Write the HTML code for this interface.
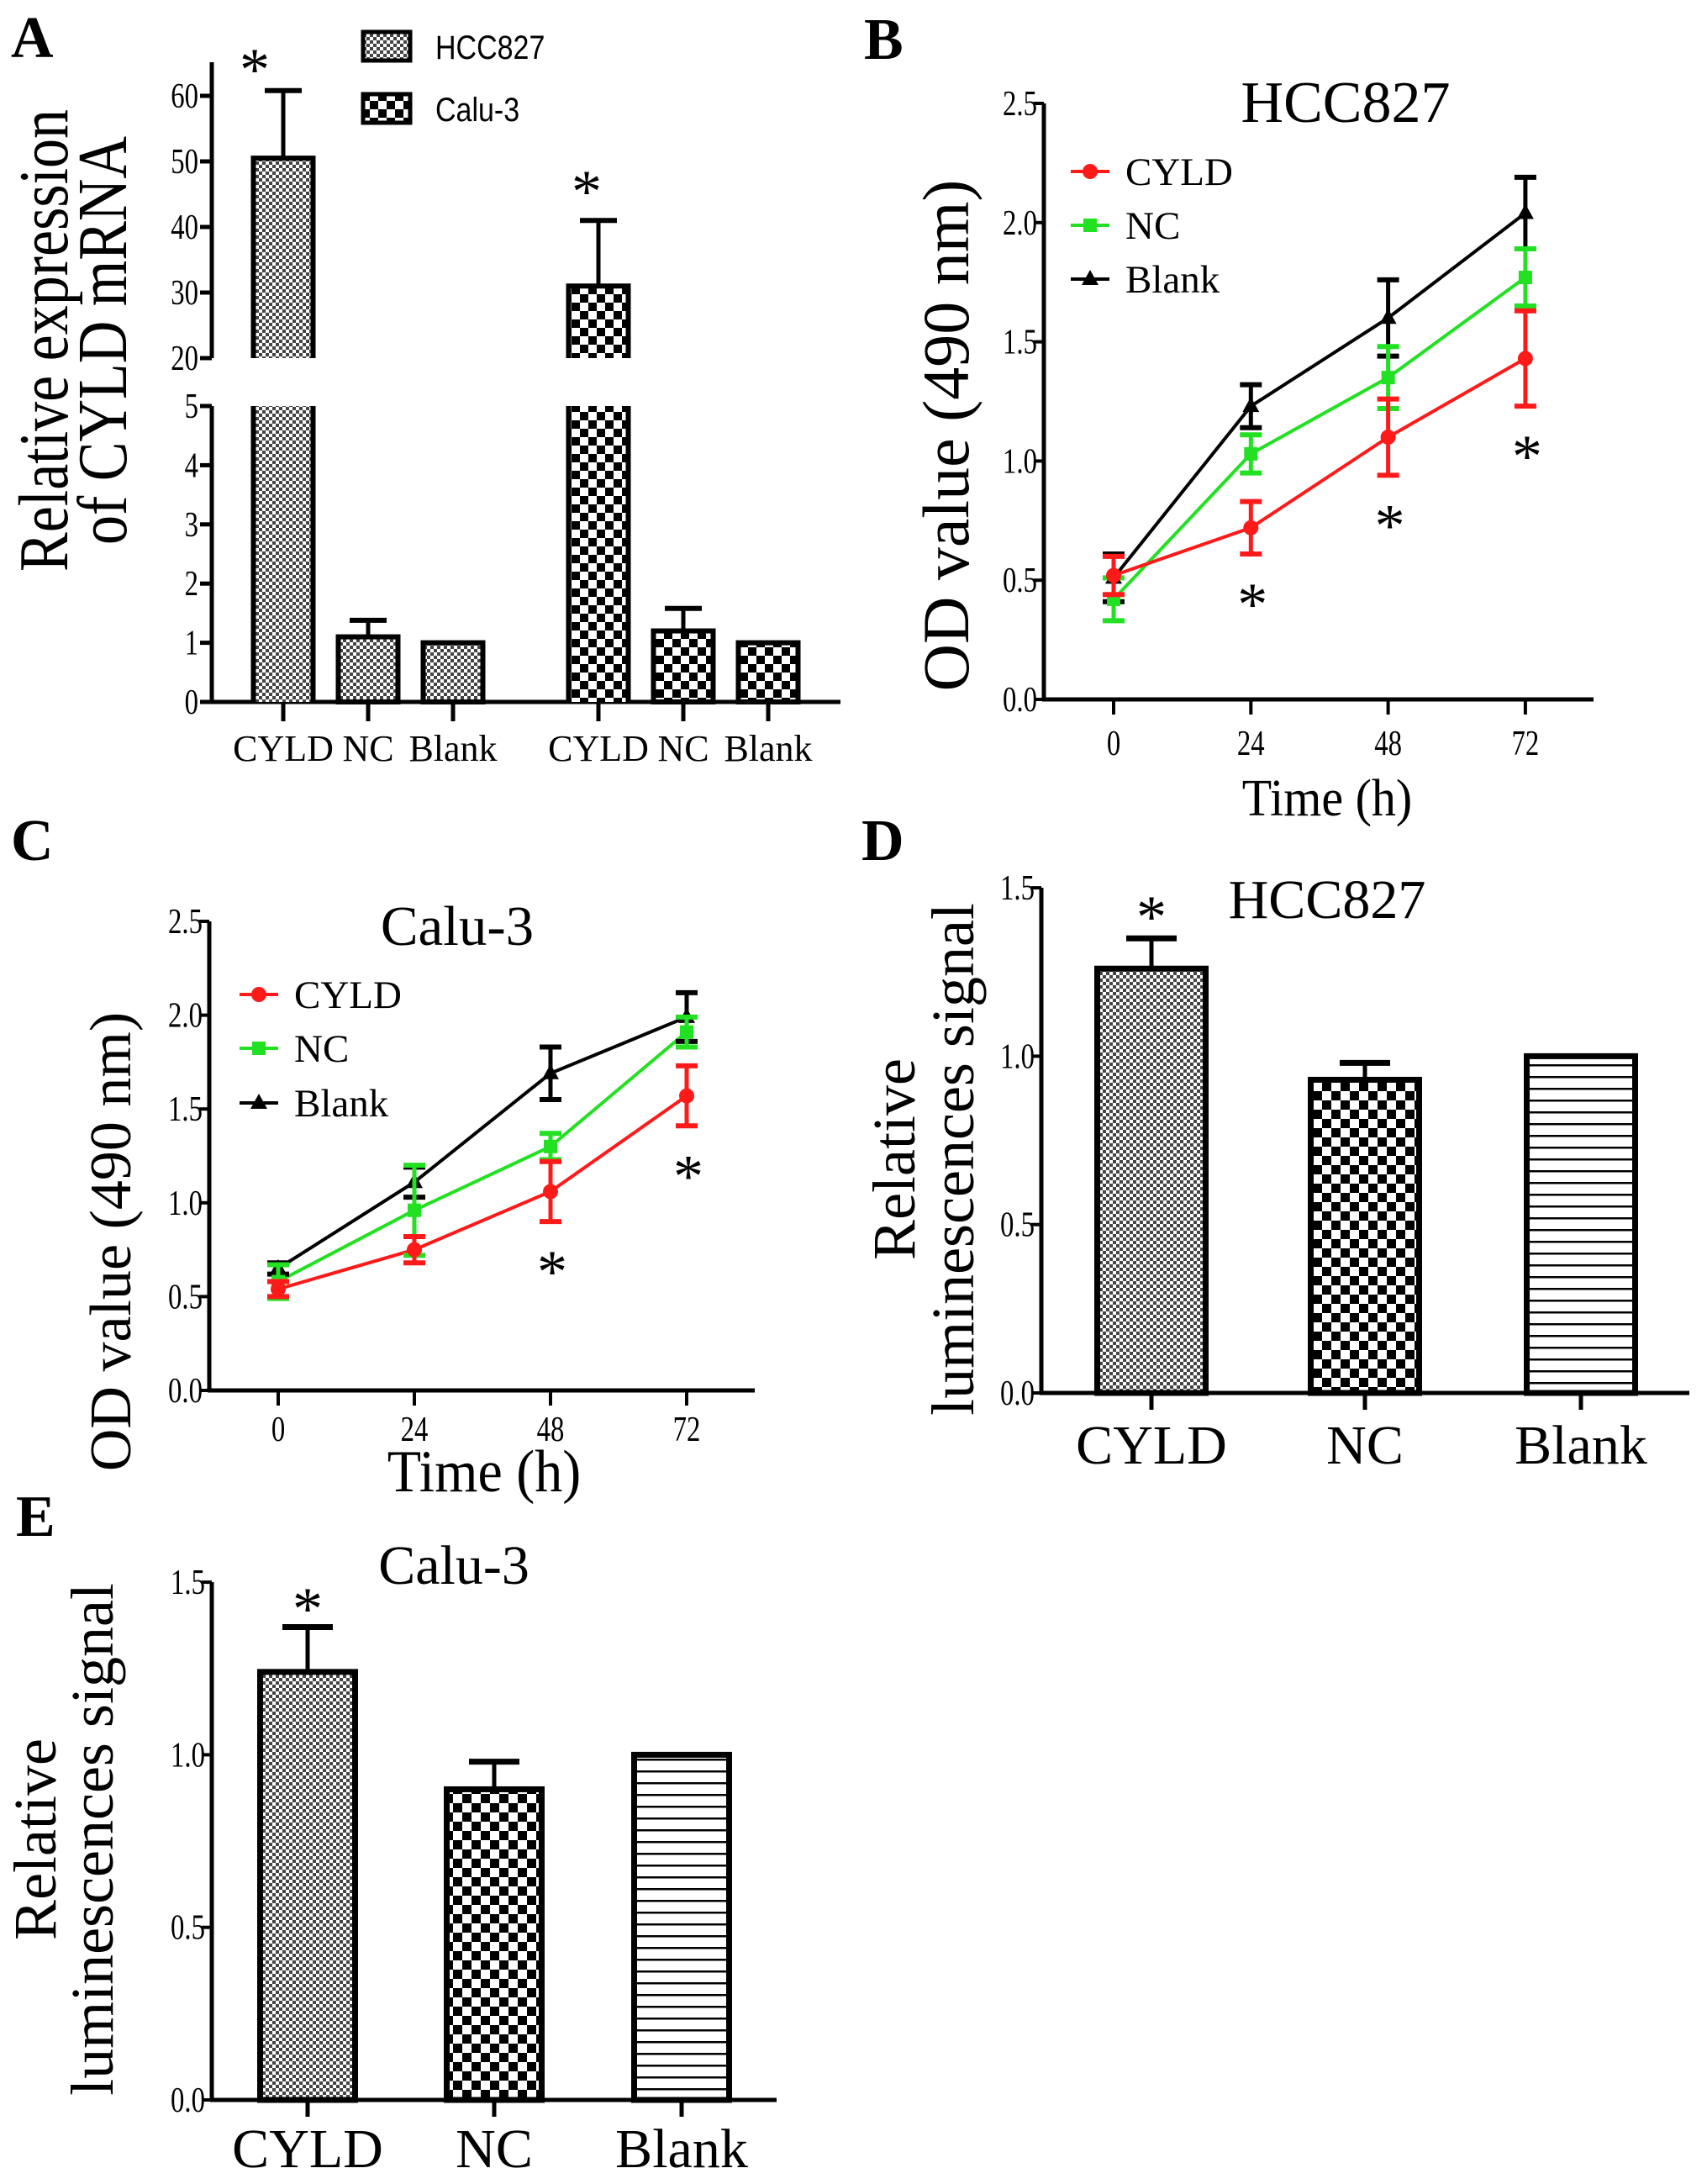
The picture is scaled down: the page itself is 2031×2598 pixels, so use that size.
<!DOCTYPE html>
<html><head><meta charset="utf-8"><title>CYLD figure</title>
<style>html,body{margin:0;padding:0;background:#fff}svg{display:block}</style></head>
<body>
<svg id="fig" xmlns="http://www.w3.org/2000/svg" width="2031" height="2598" viewBox="0 0 2031 2598">
<defs>
<pattern id="fine" patternUnits="userSpaceOnUse" width="8" height="8"><rect width="8" height="8" fill="#fff"/><rect width="4" height="4" fill="#444"/><rect x="4" y="4" width="4" height="4" fill="#444"/></pattern>
<pattern id="checkA" patternUnits="userSpaceOnUse" width="20" height="20"><rect width="20" height="20" fill="#fff"/><rect width="10" height="10" fill="#000"/><rect x="10" y="10" width="10" height="10" fill="#000"/></pattern>
<pattern id="checkD" patternUnits="userSpaceOnUse" width="22" height="22"><rect width="22" height="22" fill="#fff"/><rect width="11" height="11" fill="#000"/><rect x="11" y="11" width="11" height="11" fill="#000"/></pattern>
<pattern id="hlines" patternUnits="userSpaceOnUse" width="14" height="14"><rect width="14" height="14" fill="#fff"/><rect y="6" width="14" height="2.5" fill="#000"/></pattern>
</defs>
</svg>
<script>
// ---------- DATA ----------
const aCategories=['CYLD','NC','Blank'];
const aGroups=['HCC827','Calu-3'];
const aHccValues=[50.5,1.1,1.0];
const aHccErr=[10.3,0.28,0];
const aCaluValues=[31,1.2,1.0];
const aCaluErr=[10,0.38,0];
const aUpperTicks=[20,30,40,50,60];
const aLowerTicks=[0,1,2,3,4,5];

const timePoints=[0,24,48,72];
const odTicks=[0,0.5,1.0,1.5,2.0,2.5];
const odTickLabels=['0.0','0.5','1.0','1.5','2.0','2.5'];
const seriesNames=['CYLD','NC','Blank'];
const bCyld=[0.52,0.72,1.10,1.43];
const bCyldErr=[0.08,0.11,0.16,0.20];
const bNc=[0.42,1.03,1.35,1.77];
const bNcErr=[0.09,0.08,0.13,0.12];
const bBlank=[0.51,1.23,1.60,2.04];
const bBlankErr=[0.10,0.09,0.16,0.15];
const bSig=[false,true,true,true];

const cCyld=[0.54,0.75,1.06,1.57];
const cCyldErr=[0.04,0.07,0.16,0.16];
const cNc=[0.58,0.96,1.30,1.91];
const cNcErr=[0.09,0.24,0.07,0.08];
const cBlank=[0.65,1.11,1.69,1.99];
const cBlankErr=[0.03,0.08,0.14,0.13];
const cSig=[false,false,true,true];

const lumCategories=['CYLD','NC','Blank'];
const lumTicks=[0,0.5,1.0,1.5];
const lumTickLabels=['0.0','0.5','1.0','1.5'];
const dValues=[1.26,0.93,1.0];
const dErr=[0.09,0.05,0];
const eValues=[1.24,0.90,1.0];
const eErr=[0.13,0.08,0];

// ---------- HELPERS ----------
const NS='http://www.w3.org/2000/svg';
const svg=document.getElementById('fig');
function mk(tag,attrs,name,parent){
  const el=document.createElementNS(NS,tag);
  for(const k in attrs) el.setAttribute(k,attrs[k]);
  
  
  (parent||svg).appendChild(el);
  return el;
}
function txt(s,x,y,size,anchor,name,opt){
  opt=opt||{};
  const fam=opt.fam||'"Liberation Serif", serif';
  const sx=opt.sx||1, sy=opt.sy||1, rot=opt.rot||0;
  const el=mk('text',{x:0,y:0,'font-family':fam,'font-size':size,'text-anchor':anchor,fill:'#000','font-weight':opt.bold?'bold':'normal',
    transform:'translate('+x+','+y+') rotate('+rot+') scale('+sx+','+sy+')'},name);
  el.textContent=s;
  return el;
}
function line(x1,y1,x2,y2,w,color,name){
  return mk('line',{x1:x1,y1:y1,x2:x2,y2:y2,stroke:color||'#000','stroke-width':w},name);
}
function asterisk(x,cy,name){ return txt('*',x,cy+36,72,'middle',name); }

// ---------- PANEL LETTERS ----------
txt('A',13,68,70,'start','panel-label-a',{bold:true});
txt('B',1028,70,70,'start','panel-label-b',{bold:true});
txt('C',13,1023,70,'start','panel-label-c',{bold:true});
txt('D',1025,1023,70,'start','panel-label-d',{bold:true});
txt('E',19,1827,70,'start','panel-label-e',{bold:true});

// ---------- PANEL A ----------
(function(){
  const ax=252;
  const yU=v=>426-(v-20)*7.8;
  const yL=v=>835-v*70.4;
  line(ax,74,ax,426,5,'#000','a-y-axis-upper');
  line(ax,483,ax,835,5,'#000','a-y-axis-lower');
  line(ax-2,835,1000,835,5,'#000','a-x-axis');
  aUpperTicks.forEach(t=>{
    line(ax-14,yU(t),ax,yU(t),5,'#000','a-y-tick');
    txt(String(t),ax-16,yU(t)+14,42,'end','a-y-tick-label',{sx:0.78});
  });
  aLowerTicks.forEach(t=>{
    line(ax-14,yL(t),ax,yL(t),5,'#000','a-y-tick');
    txt(String(t),ax-16,yL(t)+14,42,'end','a-y-tick-label',{sx:0.78});
  });
  const bw=71;
  [aHccValues,aCaluValues].forEach((vals,g)=>{
    const errs=g===0?aHccErr:aCaluErr;
    const fill=g===0?'url(#fine)':'url(#checkA)';
    vals.forEach((v,i)=>{
      const cx=337+g*375+i*101;
      const l=cx-bw/2, r=cx+bw/2;
      if(v>5){
        mk('rect',{x:l,y:yL(5),width:bw,height:835-yL(5),fill:fill},'a-bar-'+aCategories[i].toLowerCase()+'-lower');
        mk('path',{d:'M'+l+','+yL(5)+'V835M'+r+','+yL(5)+'V835',stroke:'#000','stroke-width':6,fill:'none'},'a-bar-outline');
        mk('rect',{x:l,y:yU(v),width:bw,height:yU(20)-yU(v),fill:fill},'a-bar-'+aCategories[i].toLowerCase()+'-upper');
        mk('path',{d:'M'+l+','+yU(20)+'V'+yU(v)+'H'+r+'V'+yU(20),stroke:'#000','stroke-width':6,fill:'none'},'a-bar-outline');
        line(cx,yU(v),cx,yU(v+errs[i]),5,'#000','a-error-bar');
        line(cx-22,yU(v+errs[i]),cx+22,yU(v+errs[i]),6,'#000','a-error-cap');
        asterisk(cx-(g===0?34:14),g===0?71:216,'a-significance-star');
      } else {
        if(errs[i]>0){
          line(cx,yL(v),cx,yL(v+errs[i]),5,'#000','a-error-bar');
          line(cx-22,yL(v+errs[i]),cx+22,yL(v+errs[i]),6,'#000','a-error-cap');
        }
        mk('rect',{x:l,y:yL(v),width:bw,height:835-yL(v),fill:fill,stroke:'#000','stroke-width':6},'a-bar-'+aCategories[i].toLowerCase());
      }
      line(cx,835,cx,858,5,'#000','a-x-tick');
      txt(aCategories[i],cx,905,44,'middle','a-x-label');
    });
  });
  mk('rect',{x:432,y:38,width:56,height:34,fill:'url(#fine)',stroke:'#000','stroke-width':5},'a-legend-swatch-hcc827');
  txt(aGroups[0],518,70,40,'start','a-legend-label-hcc827',{fam:'"Liberation Sans", sans-serif',sx:0.85});
  mk('rect',{x:432,y:112,width:56,height:34,fill:'url(#checkA)',stroke:'#000','stroke-width':5},'a-legend-swatch-calu3');
  txt(aGroups[1],518,144,40,'start','a-legend-label-calu3',{fam:'"Liberation Sans", sans-serif',sx:0.85});
  txt('Relative expression',80,405,70,'middle','a-y-axis-title-line1',{rot:-90,sy:1.2});
  txt('of CYLD mRNA',150,405,70,'middle','a-y-axis-title-line2',{rot:-90,sy:1.2});
})();

// ---------- LINE PANELS ----------
function linePanel(p){
  const yS=v=>p.y0-v*p.k;
  const xS=t=>p.x0+t*p.dx/24;
  line(p.ax,p.yTop,p.ax,p.y0,5,'#000',p.id+'-y-axis');
  line(p.ax-2,p.y0,p.xEnd,p.y0,5,'#000',p.id+'-x-axis');
  odTicks.forEach((t,i)=>{
    line(p.ax-12,yS(t),p.ax,yS(t),4,'#000',p.id+'-y-tick');
    txt(odTickLabels[i],p.ax-8,yS(t)+14,42,'end',p.id+'-y-tick-label',{sx:0.78});
  });
  timePoints.forEach(t=>{
    line(xS(t),p.y0,xS(t),p.y0+18,4,'#000',p.id+'-x-tick');
    txt(String(t),xS(t),p.y0+p.tickOff,42,'middle',p.id+'-x-tick-label',{sx:0.78});
  });
  const series=[[p.blank,p.blankErr,'#000','tri'],[p.nc,p.ncErr,'#22e022','sq'],[p.cyld,p.cyldErr,'#ff1a1a','circ']];
  series.forEach(s=>{
    mk('polyline',{points:s[0].map((v,i)=>xS(timePoints[i])+','+yS(v)).join(' '),fill:'none',stroke:s[2],'stroke-width':4},p.id+'-line-'+s[3]);
  });
  series.forEach(s=>{
    s[0].forEach((v,i)=>{
      const x=xS(timePoints[i]);
      line(x,yS(v-s[1][i]),x,yS(v+s[1][i]),5,s[2],p.id+'-error-bar');
      line(x-13,yS(v+s[1][i]),x+13,yS(v+s[1][i]),6,s[2],p.id+'-error-cap');
      line(x-13,yS(v-s[1][i]),x+13,yS(v-s[1][i]),6,s[2],p.id+'-error-cap');
      marker(s[3],x,yS(v),s[2],p.id+'-point');
    });
  });
  p.sig.forEach((sg,i)=>{
    if(sg){
      const x=xS(timePoints[i]);
      const y=yS(p.cyld[i]-p.cyldErr[i])+48;
      asterisk(x+2,y,p.id+'-significance-star');
    }
  });
  const cols=['#ff1a1a','#22e022','#000'], shapes=['circ','sq','tri'];
  seriesNames.forEach((n,i)=>{
    const ly=p.legY[i];
    line(p.legX,ly,p.legX+46,ly,4,cols[i],p.id+'-legend-line');
    marker(shapes[i],p.legX+23,ly,cols[i],p.id+'-legend-marker');
    txt(n,p.legX+65,ly+16,47,'start',p.id+'-legend-label-'+n.toLowerCase());
  });
  txt(p.title,p.titleX,p.titleY,p.titleSize,'middle',p.id+'-title');
  txt('Time (h)',p.timeX,p.timeY,p.timeSize,'middle',p.id+'-x-axis-title',{sy:1.08});
  txt('OD value (490 nm)',p.ytX,p.ytY,p.ytSize,'middle',p.id+'-y-axis-title',{rot:-90});
}
function marker(kind,x,y,color,name){
  if(kind==='circ') return mk('circle',{cx:x,cy:y,r:9,fill:color},name);
  if(kind==='sq') return mk('rect',{x:x-8,y:y-8,width:16,height:16,fill:color},name);
  return mk('path',{d:'M'+x+','+(y-11)+'L'+(x+10)+','+(y+7)+'L'+(x-10)+','+(y+7)+'Z',fill:color},name);
}
linePanel({id:'b',ax:1242,yTop:123,y0:832,k:283.6,x0:1325,dx:163.3,xEnd:1896,tickOff:66,
  cyld:bCyld,cyldErr:bCyldErr,nc:bNc,ncErr:bNcErr,blank:bBlank,blankErr:bBlankErr,sig:bSig,
  legX:1274,legY:[204,268,332],title:'HCC827',titleX:1601,titleY:145,titleSize:70,
  timeX:1579,timeY:970,timeSize:58,ytX:1152,ytY:518,ytSize:78});
linePanel({id:'c',ax:249,yTop:1096,y0:1654,k:223.2,x0:331,dx:162,xEnd:898,tickOff:60,
  cyld:cCyld,cyldErr:cCyldErr,nc:cNc,ncErr:cNcErr,blank:cBlank,blankErr:cBlankErr,sig:cSig,
  legX:285,legY:[1183,1247,1312],title:'Calu-3',titleX:544,titleY:1124,titleSize:67,
  timeX:576,timeY:1774,timeSize:66,ytX:155,ytY:1477,ytSize:70});

// ---------- LUMINESCENCE PANELS ----------
function barPanel(p){
  const yS=v=>p.y0-v*p.k;
  line(p.ax,p.yTop,p.ax,p.y0,5,'#000',p.id+'-y-axis');
  line(p.ax-2,p.y0,p.xEnd,p.y0,5,'#000',p.id+'-x-axis');
  lumTicks.forEach((t,i)=>{
    line(p.ax-12,yS(t),p.ax,yS(t),4,'#000',p.id+'-y-tick');
    txt(lumTickLabels[i],p.ax-8,yS(t)+14,42,'end',p.id+'-y-tick-label',{sx:0.78});
  });
  const fills=['url(#fine)','url(#checkD)','url(#hlines)'];
  p.vals.forEach((v,i)=>{
    const cx=p.cx[i];
    if(p.err[i]>0){
      line(cx,yS(v),cx,yS(v+p.err[i]),5,'#000',p.id+'-error-bar');
      line(cx-30,yS(v+p.err[i]),cx+30,yS(v+p.err[i]),7,'#000',p.id+'-error-cap');
    }
    mk('rect',{x:cx-p.bw/2,y:yS(v),width:p.bw,height:p.y0-yS(v),fill:fills[i],stroke:'#000','stroke-width':7},p.id+'-bar-'+lumCategories[i].toLowerCase());
    line(cx,p.y0,cx,p.y0+20,5,'#000',p.id+'-x-tick');
    txt(lumCategories[i],cx,p.labY,66,'middle',p.id+'-x-label');
  });
  asterisk(p.cx[0],p.starY,p.id+'-significance-star');
  txt(p.title,p.titleX,p.titleY,66,'middle',p.id+'-title');
  txt('Relative',p.yt1,p.ytY,72,'middle',p.id+'-y-axis-title-line1',{rot:-90});
  txt('luminescences signal',p.yt2,p.ytY,72,'middle',p.id+'-y-axis-title-line2',{rot:-90});
}
barPanel({id:'d',ax:1239,yTop:1056,y0:1657,k:400.6,xEnd:2010,bw:129,cx:[1370,1624,1881],
  vals:dValues,err:dErr,labY:1741,starY:1079,title:'HCC827',titleX:1579,titleY:1092,
  yt1:1088,yt2:1158,ytY:1379});
barPanel({id:'e',ax:252,yTop:1882,y0:2498,k:410.6,xEnd:924,bw:113,cx:[366,588,811],
  vals:eValues,err:eErr,labY:2578,starY:1902,title:'Calu-3',titleX:540,titleY:1884,
  yt1:66,yt2:134,ytY:2188});
</script>
</body></html>
